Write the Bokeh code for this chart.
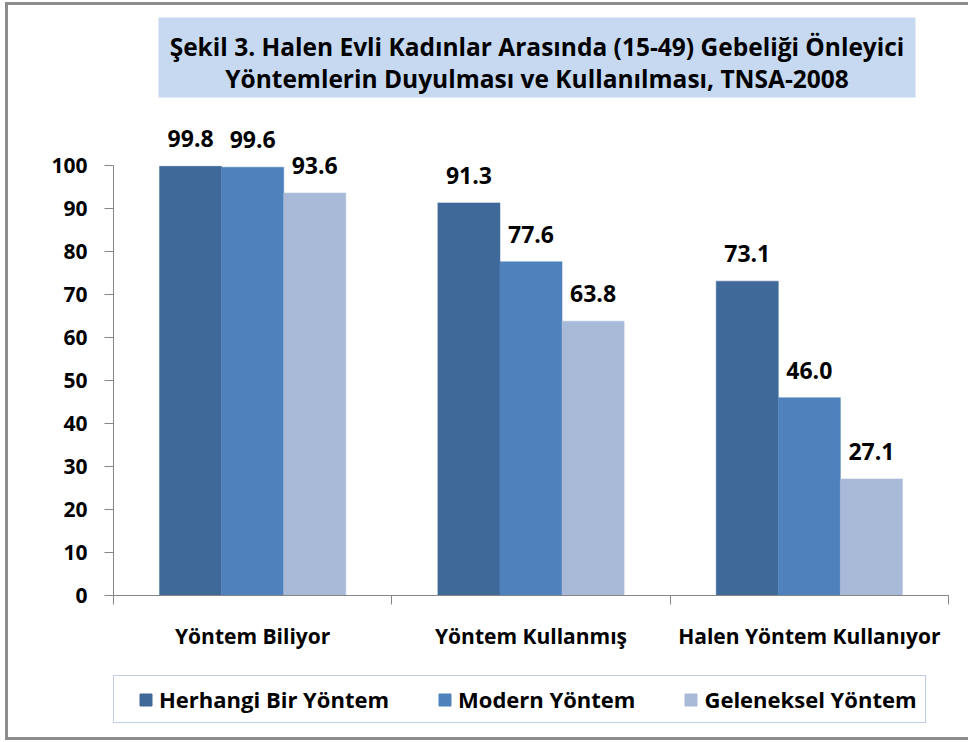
from bokeh.plotting import figure
from bokeh.models import (ColumnDataSource, Range1d, FixedTicker, Legend, LegendItem,
                          LabelSet, Label, BoxAnnotation)
from bokeh.layouts import column
from bokeh.core.properties import value
from bokeh.embed import file_html
from bokeh.resources import INLINE

categories = ["Yöntem Biliyor", "Yöntem Kullanmış", "Halen Yöntem Kullanıyor"]
series_names = ["Herhangi Bir Yöntem", "Modern Yöntem", "Geleneksel Yöntem"]
herhangi = [99.8, 91.3, 73.1]
modern = [99.6, 77.6, 46.0]
geleneksel = [93.6, 63.8, 27.1]
y_ticks = [0, 10, 20, 30, 40, 50, 60, 70, 80, 90, 100]
title_line1 = "Şekil 3. Halen Evli Kadınlar Arasında (15-49) Gebeliği Önleyici"
title_line2 = "Yöntemlerin Duyulması ve Kullanılması, TNSA-2008"

colors = ["#3F6999", "#4F81BD", "#A9BAD8"]
FONT = "Open Sans"
BORDER = "3px solid #8C8C8C"


def blank_strip(w, h, **kw):
    f = figure(width=w, height=h, output_backend="svg", toolbar_location=None,
               x_axis_type=None, y_axis_type=None, **kw)
    f.outline_line_color = None
    f.xgrid.visible = False
    f.ygrid.visible = False
    f.background_fill_color = "white"
    f.border_fill_color = "white"
    return f


# ---- title strip (its frame is aligned with the chart frame: 835 px wide)
pt = blank_strip(960, 105, x_range=Range1d(0, 835), y_range=Range1d(0, 105),
                 min_border_left=105, min_border_right=20, min_border_top=0,
                 min_border_bottom=0)
pt.add_layout(BoxAnnotation(left=45, right=802, bottom=13, top=93,
                            fill_color="#C6D9F1", fill_alpha=1.0, line_color=None))
for txt, yy in ((title_line1, 64), (title_line2, 32)):
    pt.add_layout(Label(x=423.5, y=yy, text=txt, text_align="center",
                        text_baseline="alphabetic", text_font=FONT,
                        text_font_style="bold", text_font_size="24.5px",
                        text_color="black"))

# ---- main chart
p = figure(width=960, height=547, output_backend="svg", toolbar_location=None,
           x_range=Range1d(0, 3), y_range=Range1d(0, 109.3),
           min_border_left=105, min_border_right=20, min_border_top=15,
           min_border_bottom=62)
p.outline_line_color = None
p.xgrid.visible = False
p.ygrid.visible = False
p.background_fill_color = "white"
p.border_fill_color = "white"

width = 0.223
offsets = [-width, 0.0, width]
for vals, off, col in zip([herhangi, modern, geleneksel], offsets, colors):
    xs = [i + 0.5 + off for i in range(len(categories))]
    src = ColumnDataSource(dict(x=xs, top=vals, text=["%.1f" % v for v in vals]))
    p.vbar(x="x", top="top", width=width, bottom=0, source=src,
           fill_color=col, line_color=col, line_width=0.5)
    p.add_layout(LabelSet(x="x", y="top", text="text", source=src,
                          text_align="center", text_baseline="alphabetic",
                          y_offset=19, text_font=value(FONT), text_font_style="bold",
                          text_font_size="23px", text_color="black"))

ya = p.yaxis[0]
ya.ticker = FixedTicker(ticks=y_ticks, minor_ticks=[])
ya.bounds = (0, 100)
ya.axis_line_color = "#868686"
ya.major_tick_line_color = "#868686"
ya.major_tick_out = 9
ya.major_tick_in = 0
ya.minor_tick_line_color = None
ya.major_label_standoff = 17
ya.major_label_text_font = FONT
ya.major_label_text_font_style = "bold"
ya.major_label_text_font_size = "21px"
ya.major_label_text_color = "black"

xa = p.xaxis[0]
xa.ticker = FixedTicker(ticks=[0.5, 1.5, 2.5], minor_ticks=[0, 1, 2, 3])
xa.major_label_overrides = {i + 0.5: c for i, c in enumerate(categories)}
xa.axis_line_color = "#868686"
xa.major_tick_line_color = None
xa.major_tick_out = 0
xa.major_tick_in = 0
xa.minor_tick_line_color = "#868686"
xa.minor_tick_out = 9
xa.minor_tick_in = 0
xa.major_label_standoff = 17
xa.major_label_text_font = FONT
xa.major_label_text_font_style = "bold"
xa.major_label_text_font_size = "21px"
xa.major_label_text_color = "black"

# ---- legend strip
pl = blank_strip(960, 80, x_range=Range1d(0, 3), y_range=Range1d(0, 110),
                 min_border_left=105, min_border_right=20, min_border_top=18,
                 min_border_bottom=10)
swatches = []
for vals, col in zip([herhangi, modern, geleneksel], colors):
    swatches.append(pl.vbar(x=[i + 0.5 for i in range(len(categories))], top=vals,
                            width=0.2, fill_color=col, line_color=col, visible=False))

legend = Legend(items=[LegendItem(label=n, renderers=[r]) for n, r in zip(series_names, swatches)],
                orientation="horizontal", location="top_left",
                title=" ", title_location="left", title_standoff=5,
                title_text_font_size="10px",
                label_text_font=FONT, label_text_font_style="bold",
                label_text_font_size="22px", label_text_color="black",
                glyph_width=15, glyph_height=15, label_standoff=6, spacing=48,
                padding=8, margin=0, border_line_color="#7C9DCC", border_line_width=1.5,
                background_fill_color="white", inactive_fill_alpha=0.0)
pl.add_layout(legend)

layout = column(pt, p, pl, spacing=0,
                styles={"border-left": BORDER, "border-top": BORDER, "border-bottom": BORDER,
                        "margin-left": "5px", "margin-top": "2px"})

open("out.html", "w").write(file_html(layout, INLINE))
